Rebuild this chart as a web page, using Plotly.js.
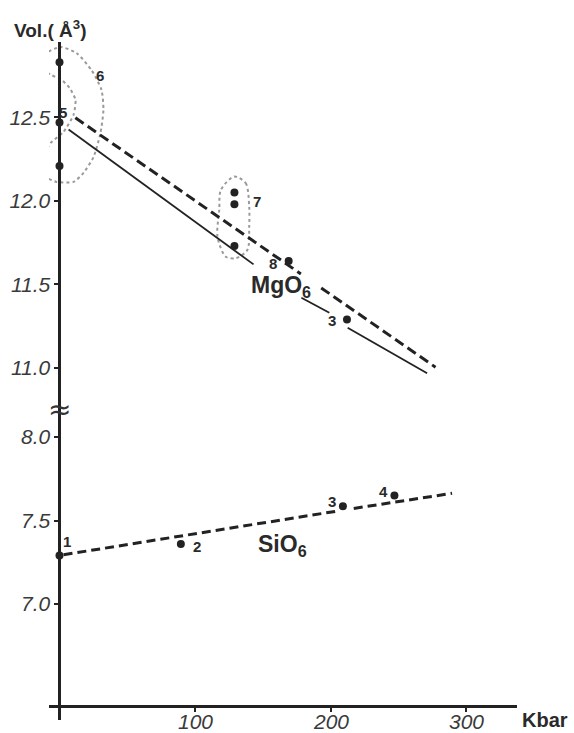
<!DOCTYPE html>
<html><head><meta charset="utf-8">
<script src="https://cdn.plot.ly/plotly-3.0.1.min.js"></script>
<style>html,body{margin:0;padding:0;background:#fff}#chart{width:574px;height:733px}</style>
</head><body><div id="chart"></div>
<script>
// Pressure (Kbar) and polyhedral volume (Å^3)
const pressureMgPoints = [0, 0, 0, 129, 129, 129, 169, 212];
const volumeMgPoints   = [12.83, 12.47, 12.21, 12.05, 11.98, 11.73, 11.64, 11.29];
const pressureMgDashed = [11.7, 178, null, 193, 277.3];
const volumeMgDashed   = [12.498, 11.563, null, 11.479, 11.004];
const pressureMgSolid  = [6.7, 143.1, null, 178.4, 199, null, 212.5, 271.1];
const volumeMgSolid    = [12.428, 11.62, null, 11.42, 11.33, null, 11.24, 10.968];
const pressureSiPoints = [0, 89.5, 209, 247];
const volumeSiPoints   = [7.29, 7.36, 7.585, 7.65];
const pressureSiDashed = [3, 206, null, 217, 289.5];
const volumeSiDashed   = [7.295, 7.558, null, 7.572, 7.663];
// dotted outlines of the grouped points 6 and 7
const group6P = [0.7, 12.5, 23.6, 31.0, 32.4, 30.2, 25.1, 17.7, 10.3, -2.2, -9.6, -11.8, -6.6, 2.9, 10.3, 11.8, 7.4, 1.5, -5.9, -13.3, -11.8, 0.7];
const group6V = [12.922, 12.886, 12.784, 12.665, 12.545, 12.407, 12.263, 12.168, 12.114, 12.114, 12.144, 12.263, 12.347, 12.413, 12.515, 12.605, 12.677, 12.725, 12.754, 12.796, 12.874, 12.922];
const group7P = [128.8, 137.4, 139.9, 139.9, 138.6, 130.0, 122.6, 116.5, 117.8, 119.0, 128.8];
const group7V = [12.146, 12.106, 11.966, 11.846, 11.707, 11.657, 11.666, 11.786, 11.946, 12.066, 12.146];
const upperTicks = [11.0, 11.5, 12.0, 12.5];
const lowerTicks = [7.0, 7.5, 8.0];
const xTicks = [100, 200, 300];

const ink = '#222';
const xRange = [-7.743, 337.39];
const axisPos = (0 - xRange[0]) / (xRange[1] - xRange[0]);
const lab = {family: 'Liberation Sans, Arial, sans-serif', size: 21, style: 'italic', color: '#3a3a3a'};
const boldF = (s) => ({family: 'Liberation Sans, Arial, sans-serif', size: s, weight: 700, color: '#2a2a2a'});

const traces = [
  {x: group6P, y: group6V, yaxis: 'y2', mode: 'lines', line: {color: '#9a9a9a', width: 2, dash: 'dot', shape: 'spline', smoothing: 0.6}, cliponaxis: false, hoverinfo: 'skip'},
  {x: group7P, y: group7V, yaxis: 'y2', mode: 'lines', line: {color: '#9a9a9a', width: 2, dash: 'dot', shape: 'spline', smoothing: 0.8}, cliponaxis: false, hoverinfo: 'skip'},
  {x: pressureMgDashed, y: volumeMgDashed, yaxis: 'y2', mode: 'lines', connectgaps: false, line: {color: ink, width: 3, dash: '10px,5px'}},
  {x: pressureMgSolid, y: volumeMgSolid, yaxis: 'y2', mode: 'lines', connectgaps: false, line: {color: ink, width: 1.8}},
  {x: pressureMgPoints, y: volumeMgPoints, yaxis: 'y2', mode: 'markers', marker: {color: ink, size: 8}, cliponaxis: false},
  {x: pressureSiDashed, y: volumeSiDashed, yaxis: 'y', mode: 'lines', connectgaps: false, line: {color: ink, width: 3, dash: '9px,5px'}},
  {x: pressureSiPoints, y: volumeSiPoints, yaxis: 'y', mode: 'markers', marker: {color: ink, size: 8}, cliponaxis: false}
];

const numLab = (t, x, y, yref) => ({text: t, x: x, y: y, xref: 'x', yref: yref, showarrow: false, font: boldF(15), xanchor: 'center', yanchor: 'middle'});

const xTickLabels = xTicks.map(v => ({text: String(v), x: v, y: -0.0256, xref: 'x', yref: 'paper', showarrow: false, font: lab, xanchor: 'center', yanchor: 'middle'}));

const layout = {
  width: 574, height: 733,
  margin: {l: 49, r: 57, t: 42, b: 28},
  paper_bgcolor: '#fff', plot_bgcolor: '#fff',
  showlegend: false,
  xaxis: {range: xRange, showgrid: false, zeroline: false, showline: true, linewidth: 3, linecolor: ink,
          ticks: 'outside', ticklen: 4, tickwidth: 2, tickcolor: ink, tickvals: xTicks, showticklabels: false, anchor: 'y'},
  yaxis: {domain: [0, 0.4465], range: [6.395, 8.168], anchor: 'free', position: axisPos, showgrid: false, zeroline: false,
          showline: false, ticks: 'outside', ticklen: 5, tickwidth: 2, tickcolor: ink, tickvals: lowerTicks, tickformat: '.1f', tickfont: lab},
  yaxis2: {domain: [0.4465, 1], range: [10.754, 12.952], anchor: 'free', position: axisPos, showgrid: false, zeroline: false,
          showline: false, ticks: 'outside', ticklen: 5, tickwidth: 2, tickcolor: ink, tickvals: upperTicks, tickformat: '.1f', tickfont: lab},
  shapes: [
    {type: 'line', xref: 'x', yref: 'paper', x0: 0, x1: 0, y0: -0.0226, y1: 1, line: {color: ink, width: 3}}
  ],
  annotations: [
    {text: 'Vol.( Å<sup>3</sup>)', xref: 'paper', yref: 'paper', x: -0.079, y: 1.02, xanchor: 'left', yanchor: 'middle', showarrow: false, font: boldF(19)},
    {text: 'Kbar', xref: 'paper', yref: 'paper', x: 1.006, y: -0.0226, xanchor: 'left', yanchor: 'middle', showarrow: false, font: boldF(20)},
    {text: '≈', xref: 'x', yref: 'paper', x: 0, y: 0.445, xanchor: 'center', yanchor: 'middle', showarrow: false, font: {family: 'DejaVu Sans', size: 28, color: '#333'}},
    {text: 'MgO<sub>6</sub>', xref: 'x', yref: 'y2', x: 140, y: 11.49, xanchor: 'left', yanchor: 'middle', showarrow: false, font: boldF(23)},
    {text: 'SiO<sub>6</sub>', xref: 'x', yref: 'y', x: 144.9, y: 7.35, xanchor: 'left', yanchor: 'middle', showarrow: false, font: boldF(23)},
    numLab('6', 29.9, 12.754, 'y2'),
    numLab('5', 2.8, 12.53, 'y2'),
    numLab('7', 146, 11.996, 'y2'),
    numLab('8', 157.7, 11.623, 'y2'),
    numLab('3', 201.3, 11.281, 'y2'),
    numLab('1', 5.3, 7.373, 'y'),
    numLab('2', 101.2, 7.343, 'y'),
    numLab('3', 200.7, 7.613, 'y'),
    numLab('4', 238.8, 7.673, 'y')
  ].concat(xTickLabels)
};
Plotly.newPlot('chart', traces, layout, {displayModeBar: false, staticPlot: true});
</script></body></html>
